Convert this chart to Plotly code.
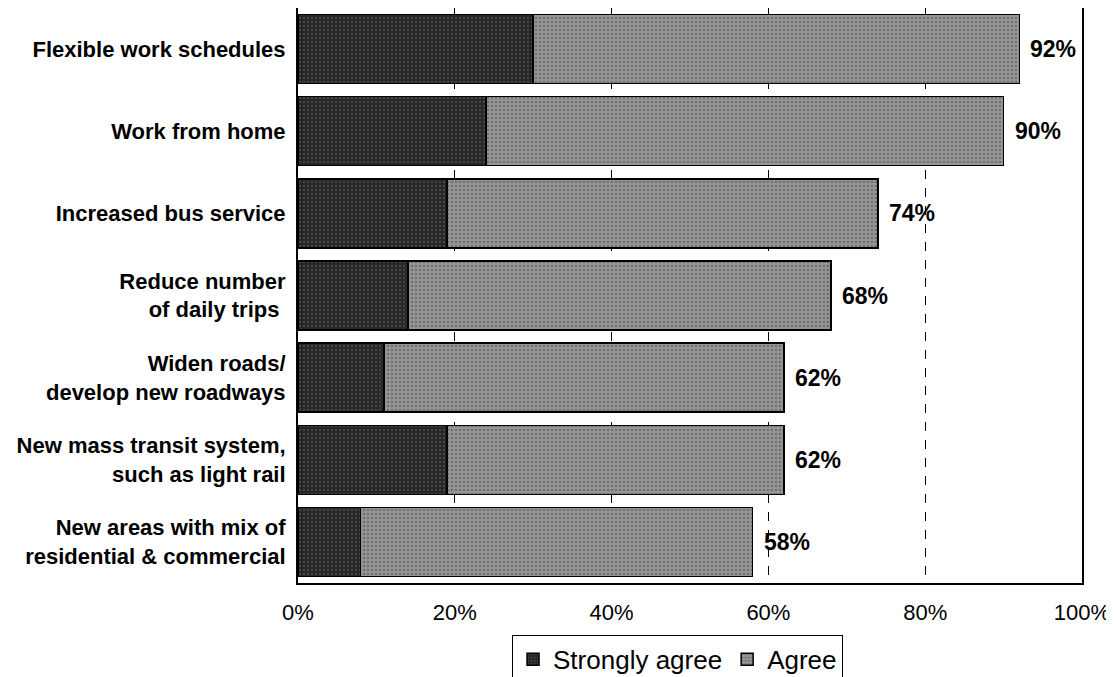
import plotly.graph_objects as go

categories = [
    "Flexible work schedules",
    "Work from home",
    "Increased bus service",
    "Reduce number<br>of daily trips ",
    "Widen roads/<br>develop new roadways",
    "New mass transit system,<br>such as light rail",
    "New areas with mix of<br>residential & commercial",
]
strongly_agree = [30, 24, 19, 14, 11, 19, 8]
totals = [92, 90, 74, 68, 62, 62, 58]
agree = [t - s for t, s in zip(totals, strongly_agree)]
total_labels = [f"{t}%" for t in totals]
x_ticks = [0, 20, 40, 60, 80, 100]
x_tick_labels = ["0%", "20%", "40%", "60%", "80%", "100%"]

FONT = "Liberation Sans, Arial, sans-serif"

fig = go.Figure()
fig.add_trace(go.Bar(
    y=categories, x=strongly_agree, orientation="h", name="Strongly agree",
    marker=dict(color="#262626", line=dict(color="black", width=1.5),
                pattern=dict(shape=".", fgcolor="#6a6a6a", size=4, solidity=0.25, fillmode="overlay")),
))
fig.add_trace(go.Bar(
    y=categories, x=agree, orientation="h", name="Agree",
    marker=dict(color="#969696", line=dict(color="black", width=1.5),
                pattern=dict(shape=".", fgcolor="#4a4a4a", size=4, solidity=0.35, fillmode="overlay")),
))

for cat, t, lab in zip(categories, totals, total_labels):
    fig.add_annotation(x=t, y=cat, text=lab, showarrow=False, xanchor="left",
                       xshift=9, font=dict(family=FONT, size=23, color="black", weight="bold"))

fig.update_layout(
    barmode="stack",
    bargap=0.16,
    width=1106, height=669,
    margin=dict(l=290, r=32, t=0, b=94, autoexpand=False),
    paper_bgcolor="white", plot_bgcolor="white",
    font=dict(family=FONT, color="black"),
    showlegend=True,
    legend=dict(orientation="h", x=0.273, xanchor="left", y=-0.09, yanchor="top",
                bordercolor="black", borderwidth=1, font=dict(size=26, family=FONT),
                traceorder="normal", itemwidth=30, tracegroupgap=0),
)
fig.update_xaxes(
    range=[0, 100], tickvals=x_ticks, ticktext=x_tick_labels,
    showgrid=True, gridcolor="black", griddash="dash", gridwidth=1,
    showline=True, mirror=True, linecolor="black", linewidth=2,
    ticks="", tickfont=dict(size=22, family=FONT), ticklabelstandoff=9,
    zeroline=False,
)
fig.update_yaxes(
    autorange="reversed", showline=True, mirror=True, linecolor="black", linewidth=2,
    ticks="", tickfont=dict(size=22, family=FONT, weight="bold"), ticklabelstandoff=6,
    showgrid=False,
)

fig.write_html("out.html")
